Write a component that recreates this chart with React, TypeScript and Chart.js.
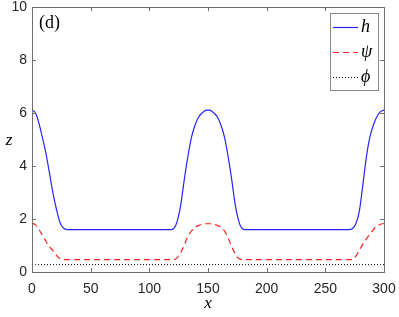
import React, { useEffect, useRef } from "react";
import { Chart, registerables } from "chart.js";

Chart.register(...registerables);

const xs = [0, 3, 6, 9, 12, 15, 18, 21, 24, 27, 30, 33, 60, 90, 115, 118, 121, 124, 127, 130, 133, 136, 139, 142, 145, 148, 150, 152, 155, 158, 161, 164, 167, 170, 173, 176, 179, 182, 185, 210, 240, 265, 270, 273, 276, 279, 282, 285, 288, 291, 294, 297, 300];

const hValues = [6.11, 6.0, 5.6, 5.05, 4.45, 3.7, 2.95, 2.34, 1.85, 1.65, 1.6, 1.6, 1.6, 1.6, 1.6, 1.6, 1.65, 1.95, 2.6, 3.55, 4.4, 5.1, 5.55, 5.85, 6.0, 6.1, 6.11, 6.1, 6.0, 5.85, 5.55, 5.1, 4.4, 3.55, 2.6, 1.95, 1.65, 1.6, 1.6, 1.6, 1.6, 1.6, 1.6, 1.63, 1.82, 2.3, 3.3, 4.35, 5.1, 5.55, 5.87, 6.05, 6.11];

const psiValues = [1.84, 1.78, 1.6, 1.38, 1.15, 0.95, 0.8, 0.62, 0.5, 0.47, 0.47, 0.47, 0.47, 0.47, 0.47, 0.47, 0.47, 0.55, 0.75, 1.05, 1.35, 1.55, 1.68, 1.76, 1.8, 1.82, 1.82, 1.82, 1.8, 1.76, 1.68, 1.55, 1.3, 0.98, 0.7, 0.52, 0.47, 0.47, 0.47, 0.47, 0.47, 0.47, 0.47, 0.47, 0.6, 0.82, 1.05, 1.25, 1.42, 1.6, 1.73, 1.8, 1.83];

const phiValues = [0.28, 0.28, 0.28, 0.28, 0.28, 0.28, 0.28, 0.28, 0.28, 0.28, 0.28, 0.28, 0.28, 0.28, 0.28, 0.28, 0.28, 0.28, 0.28, 0.28, 0.28, 0.28, 0.28, 0.28, 0.28, 0.28, 0.28, 0.28, 0.28, 0.28, 0.28, 0.28, 0.28, 0.28, 0.28, 0.28, 0.28, 0.28, 0.28, 0.28, 0.28, 0.28, 0.28, 0.28, 0.28, 0.28, 0.28, 0.28, 0.28, 0.28, 0.28, 0.28, 0.28];

const xTicks = [0, 50, 100, 150, 200, 250, 300];
const yTicks = [0, 2, 4, 6, 8, 10];
const seriesLabels = ["h", "ψ", "ϕ"];

const AXIS_COLOR = "#6e6e6e";
const TEXT_COLOR = "#262626";
const SERIF = "'Liberation Serif', 'DejaVu Serif', serif";

const framePlugin = {
  id: "frame",
  afterDraw(chart: any) {
    const { ctx, chartArea: a, scales } = chart;
    const xs_ = scales.x;
    const ys_ = scales.y;
    ctx.save();
    ctx.strokeStyle = AXIS_COLOR;
    ctx.lineWidth = 1;
    ctx.setLineDash([]);
    ctx.strokeRect(Math.round(a.left) + 0.5, Math.round(a.top) + 0.5, Math.round(a.right - a.left), Math.round(a.bottom - a.top));
    const tl = 4;
    ctx.beginPath();
    xTicks.forEach((v) => {
      const px = Math.round(xs_.getPixelForValue(v)) + 0.5;
      ctx.moveTo(px, a.bottom);
      ctx.lineTo(px, a.bottom - tl);
      ctx.moveTo(px, a.top);
      ctx.lineTo(px, a.top + tl);
    });
    yTicks.forEach((v) => {
      const py = Math.round(ys_.getPixelForValue(v)) + 0.5;
      ctx.moveTo(a.left, py);
      ctx.lineTo(a.left + tl, py);
      ctx.moveTo(a.right, py);
      ctx.lineTo(a.right - tl, py);
    });
    ctx.stroke();

    ctx.fillStyle = "#000";
    ctx.font = `italic 17px ${SERIF}`;
    ctx.textAlign = "center";
    ctx.textBaseline = "middle";
    ctx.fillText("x", (a.left + a.right) / 2, 304);
    ctx.fillText("z", 9, (a.top + a.bottom) / 2 + 1);

    ctx.font = `18px ${SERIF}`;
    ctx.textAlign = "left";
    ctx.fillText("(d)", a.left + 7, a.top + 16);

    const lx = 330, ly = 13, lw = 48, lh = 77;
    ctx.fillStyle = "#fff";
    ctx.fillRect(lx, ly, lw, lh);
    ctx.strokeStyle = "#8a8a8a";
    ctx.lineWidth = 1;
    ctx.strokeRect(lx + 0.5, ly + 0.5, lw, lh);
    const rows = [27, 52, 77];
    chart.data.datasets.forEach((ds: any, i: number) => {
      const y = rows[i] + 0.5;
      ctx.strokeStyle = ds.borderColor;
      ctx.lineWidth = ds.borderWidth;
      ctx.setLineDash(ds.borderDash || []);
      ctx.beginPath();
      ctx.moveTo(333, y);
      ctx.lineTo(358, y);
      ctx.stroke();
      ctx.setLineDash([]);
      ctx.fillStyle = "#000";
      ctx.font = `italic 18px ${SERIF}`;
      ctx.textAlign = "left";
      ctx.textBaseline = "middle";
      ctx.fillText(ds.label, 361, rows[i]);
    });
    ctx.restore();
  },
};

export default function App() {
  const ref = useRef<HTMLCanvasElement | null>(null);
  useEffect(() => {
    if (!ref.current) return;
    const mk = (vals: number[]) => xs.map((x, i) => ({ x, y: vals[i] }));
    const chart = new Chart(ref.current, {
      type: "line",
      data: {
        datasets: [
          {
            label: seriesLabels[0],
            data: mk(hValues),
            borderColor: "#2525ff",
            borderWidth: 1.2,
            pointRadius: 0,
            cubicInterpolationMode: "monotone",
          },
          {
            label: seriesLabels[1],
            data: mk(psiValues),
            borderColor: "#ff2020",
            borderWidth: 1.2,
            borderDash: [6, 4],
            pointRadius: 0,
            cubicInterpolationMode: "monotone",
          },
          {
            label: seriesLabels[2],
            data: mk(phiValues),
            borderColor: "#000",
            borderWidth: 1,
            borderDash: [1, 2],
            pointRadius: 0,
          },
        ],
      },
      options: {
        animation: false,
        responsive: false,
        devicePixelRatio: 1,
        layout: { padding: { top: 7, right: 15, left: 0, bottom: 0 } },
        plugins: { legend: { display: false }, tooltip: { enabled: false } },
        scales: {
          x: {
            type: "linear",
            min: 0,
            max: 300,
            afterBuildTicks: (s: any) => {
              s.ticks = xTicks.map((v) => ({ value: v }));
            },
            afterFit: (s: any) => {
              s.height = 45;
              s.paddingLeft = 0;
              s.paddingRight = 0;
            },
            grid: { display: false, drawTicks: false },
            border: { display: false },
            ticks: {
              color: TEXT_COLOR,
              font: { family: "'Liberation Sans', Arial, sans-serif", size: 14 },
              padding: 9,
              maxRotation: 0,
            },
          },
          y: {
            type: "linear",
            min: 0,
            max: 10,
            afterBuildTicks: (s: any) => {
              s.ticks = yTicks.map((v) => ({ value: v }));
            },
            afterFit: (s: any) => {
              s.width = 32;
              s.paddingTop = 0;
              s.paddingBottom = 0;
            },
            grid: { display: false, drawTicks: false },
            border: { display: false },
            ticks: {
              color: TEXT_COLOR,
              font: { family: "'Liberation Sans', Arial, sans-serif", size: 14 },
              padding: 5,
            },
          },
        },
      },
      plugins: [framePlugin],
    } as any);
    return () => chart.destroy();
  }, []);
  return (
    <div style={{ position: "fixed", left: 0, top: 0, width: 399, height: 317, background: "#fff" }}>
      <canvas ref={ref} width={399} height={317} style={{ width: 399, height: 317 }} />
    </div>
  );
}
